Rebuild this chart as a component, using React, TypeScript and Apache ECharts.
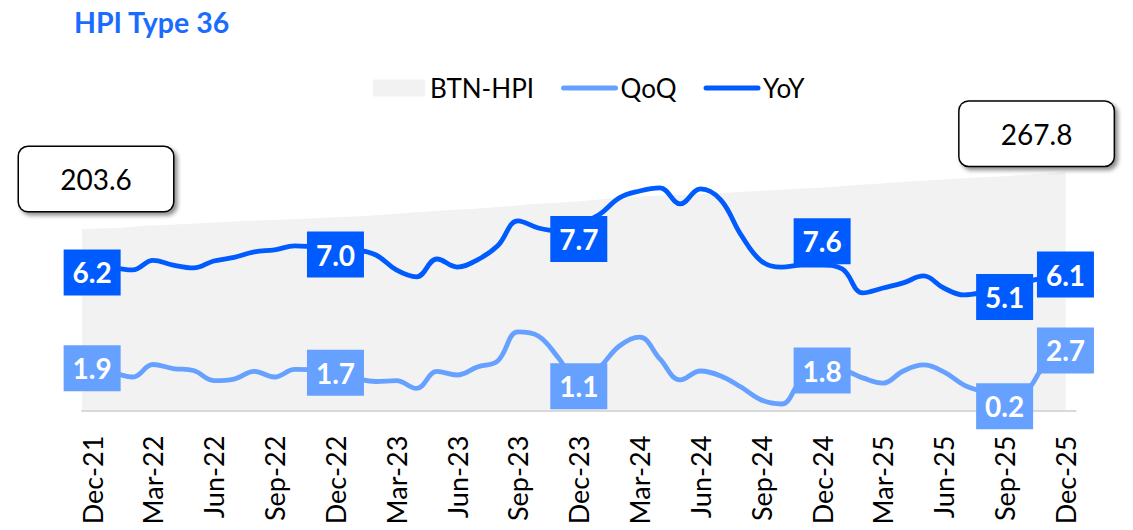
import React, { useEffect, useRef } from "react";
import * as echarts from "echarts";

const months = [
  "Dec-21", "Jan-22", "Feb-22", "Mar-22", "Apr-22", "May-22", "Jun-22", "Jul-22", "Aug-22", "Sep-22", "Oct-22", "Nov-22",
  "Dec-22", "Jan-23", "Feb-23", "Mar-23", "Apr-23", "May-23", "Jun-23", "Jul-23", "Aug-23", "Sep-23", "Oct-23", "Nov-23",
  "Dec-23", "Jan-24", "Feb-24", "Mar-24", "Apr-24", "May-24", "Jun-24", "Jul-24", "Aug-24", "Sep-24", "Oct-24", "Nov-24",
  "Dec-24", "Jan-25", "Feb-25", "Mar-25", "Apr-25", "May-25", "Jun-25", "Jul-25", "Aug-25", "Sep-25", "Oct-25", "Nov-25",
  "Dec-25",
];

const hpi = [
  203.6, 204.2, 205.0, 207.3, 208.0, 209.2, 210.3, 211.4, 212.6, 213.5, 214.4, 215.3,
  216.5, 217.4, 218.5, 220.2, 221.8, 223.4, 224.8, 226.0, 227.8, 229.5, 231.6, 232.8,
  234.3, 236.0, 238.6, 239.8, 240.9, 241.8, 242.6, 243.5, 245.0, 246.3, 247.3, 248.6,
  249.9, 251.5, 253.1, 254.7, 256.4, 257.8, 259.0, 260.4, 261.6, 262.8, 264.3, 265.9,
  267.8,
];

const yoy = [
  6.39, 6.39, 6.31, 6.74, 6.53, 6.40, 6.71, 6.87, 7.12, 7.21, 7.39, 7.34,
  7.30, 7.21, 6.98, 6.31, 6.00, 6.80, 6.44, 6.76, 7.39, 8.51, 8.19, 8.06,
  8.37, 8.78, 9.54, 9.85, 9.99, 9.27, 9.94, 9.45, 7.88, 6.71, 6.44, 6.53,
  6.53, 6.35, 5.28, 5.50, 5.73, 6.04, 5.50, 5.19, 5.32, 5.55, 5.77, 5.95,
  6.04,
];

const qoq = [
  1.73, 1.69, 1.51, 2.07, 1.89, 1.80, 1.35, 1.42, 1.76, 1.51, 1.85, 1.83,
  1.65, 1.44, 1.31, 1.35, 1.00, 1.76, 1.60, 1.96, 2.23, 3.53, 3.35, 2.36,
  1.20, 1.91, 2.90, 3.30, 2.32, 1.38, 1.78, 1.56, 1.06, 0.48, 0.30, 1.37,
  1.65, 1.79, 1.47, 1.24, 1.78, 2.05, 1.74, 1.15, 0.84, 0.66, 0.84, 2.05,
  2.50,
];

const labelIdx = [0, 12, 24, 36, 45, 48];
const yoyLabels = [6.2, 7.0, 7.7, 7.6, 5.1, 6.1];
const qoqLabels = [1.9, 1.7, 1.1, 1.8, 0.2, 2.7];

const YOY_COLOR = "#005bff";
const QOQ_COLOR = "#66a1ff";
const AREA_COLOR = "#f2f2f2";
const FONT = "Lato";

function boxLabel(color: string) {
  return {
    show: true,
    position: "inside",
    formatter: (p: any) => Number(p.value[1]).toFixed(1),
    fontFamily: FONT,
    fontWeight: "bold",
    fontSize: 28,
    color: "#fff",
    opacity: 1,
    backgroundColor: color,
    width: 57,
    height: 46,
    lineHeight: 46,
    align: "center",
    verticalAlign: "middle",
  };
}

export default function App() {
  const ref = useRef<HTMLDivElement>(null);

  useEffect(() => {
    if (!ref.current) return;
    const chart = echarts.init(ref.current, undefined, { renderer: "svg" });

    const calloutLabel = {
      show: true,
      position: "inside",
      formatter: (p: any) => Number(p.value[1]).toFixed(1),
      fontFamily: FONT,
      fontSize: 28,
      color: "#000",
      opacity: 1,
      backgroundColor: "#fff",
      borderColor: "#000",
      borderWidth: 1.5,
      borderRadius: 9,
      width: 154,
      height: 64,
      lineHeight: 64,
      align: "center",
      verticalAlign: "middle",
      shadowColor: "rgba(0,0,0,0.45)",
      shadowBlur: 4,
      shadowOffsetX: 3,
      shadowOffsetY: 3,
    };

    const option: any = {
      animation: false,
      title: {
        text: "HPI Type 36",
        left: 69,
        top: 2,
        textStyle: { fontFamily: FONT, fontWeight: "bold", fontSize: 28.5, color: "#1a6cff" },
      },
      legend: {
        left: 368,
        top: 70,
        itemWidth: 52,
        itemHeight: 17,
        itemGap: 27,
        textStyle: { fontFamily: FONT, fontSize: 26, color: "#000" },
        data: [
          { name: "BTN-HPI", icon: "rect", itemStyle: { color: AREA_COLOR } },
          { name: "QoQ", itemStyle: { opacity: 0 }, lineStyle: { width: 5, color: QOQ_COLOR, cap: "round" } },
          { name: "YoY", itemStyle: { opacity: 0 }, lineStyle: { width: 5, color: YOY_COLOR, cap: "round" } },
        ],
      },
      grid: [
        { left: 82, right: 57.4, top: 143, bottom: 119.3 },
        { left: 82, right: 67.4, top: 143, bottom: 119.3 },
      ],
      xAxis: [
        {
          type: "category",
          gridIndex: 0,
          data: months,
          boundaryGap: true,
          z: 5,
          axisLine: { lineStyle: { color: "#d9d9d9", width: 2 } },
          axisTick: { interval: 2, length: 11, lineStyle: { color: "#d9d9d9", width: 2 } },
          axisLabel: { interval: 2, rotate: 90, margin: 25, fontFamily: FONT, fontSize: 27, color: "#000" },
        },
        { type: "category", gridIndex: 1, data: months, boundaryGap: false, show: false },
      ],
      yAxis: [
        { type: "value", gridIndex: 0, min: 0, max: 12, show: false },
        { type: "value", gridIndex: 1, min: 0, max: 300, show: false },
      ],
      series: [
        {
          name: "BTN-HPI",
          type: "line",
          xAxisIndex: 1,
          yAxisIndex: 1,
          data: hpi,
          symbol: "none",
          z: 1,
          lineStyle: { width: 0, color: AREA_COLOR },
          itemStyle: { color: AREA_COLOR },
          areaStyle: { color: AREA_COLOR, opacity: 1 },
        },
        {
          name: "QoQ",
          type: "line",
          data: qoq,
          symbol: "none",
          smooth: 0.4,
          z: 3,
          lineStyle: { width: 4.8, color: QOQ_COLOR, cap: "round" },
          itemStyle: { color: QOQ_COLOR },
        },
        {
          name: "YoY",
          type: "line",
          data: yoy,
          symbol: "none",
          smooth: 0.4,
          z: 3,
          lineStyle: { width: 4.8, color: YOY_COLOR, cap: "round" },
          itemStyle: { color: YOY_COLOR },
        },
        {
          name: "QoQ labels",
          type: "scatter",
          data: labelIdx.map((i, k) => [i, qoqLabels[k]]),
          symbolSize: 0,
          z: 5,
          itemStyle: { opacity: 1, color: QOQ_COLOR },
          emphasis: { disabled: true },
          label: boxLabel(QOQ_COLOR),
        },
        {
          name: "YoY labels",
          type: "scatter",
          data: labelIdx.map((i, k) => [i, yoyLabels[k]]),
          symbolSize: 0,
          z: 5,
          itemStyle: { opacity: 1, color: YOY_COLOR },
          emphasis: { disabled: true },
          label: boxLabel(YOY_COLOR),
        },
        {
          name: "HPI callouts",
          type: "scatter",
          xAxisIndex: 1,
          yAxisIndex: 1,
          symbolSize: 0,
          z: 6,
          itemStyle: { opacity: 1, color: "#fff" },
          emphasis: { disabled: true },
          label: calloutLabel,
          data: [
            { value: [0, hpi[0]], label: { offset: [14, -50] } },
            { value: [hpi.length - 1, hpi[hpi.length - 1]], label: { offset: [-29, -38] } },
          ],
        },
      ],
    };

    chart.setOption(option);
    return () => chart.dispose();
  }, []);

  return (
    <div
      ref={ref}
      style={{ position: "absolute", left: 0, top: 0, width: 1133, height: 530, background: "#fff" }}
    />
  );
}
